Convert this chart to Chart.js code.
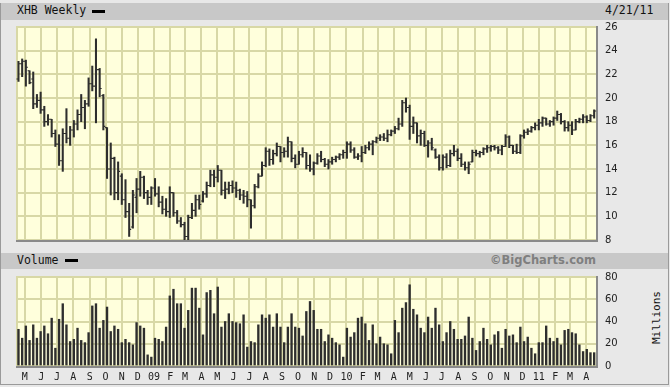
<!DOCTYPE html>
<html><head><meta charset="utf-8">
<script src="https://cdn.jsdelivr.net/npm/chart.js@4.4.1/dist/chart.umd.min.js"></script>
<style>
html,body{margin:0;padding:0;background:#e8e8e8;}
#wrap{position:relative;width:670px;height:387px;overflow:hidden;background:#e8e8e8;}
.hdr{position:absolute;left:1px;width:667px;background:#c8c8c8;}
.t{position:absolute;font-family:"DejaVu Sans Mono",monospace;font-size:11.5px;color:#111;line-height:1;white-space:nowrap;}
.sw{position:absolute;background:#000;}
canvas{position:absolute;left:0;}
</style></head><body>
<div id="wrap">
 <div style="position:absolute;left:0;top:3px;width:667px;height:381px;border:1px solid #9a9a9a;border-top:none;"></div>
 <div class="hdr" style="top:3px;height:17px;"></div>
 <div class="t" style="left:17px;top:5px;">XHB Weekly</div>
 <div class="sw" style="left:92px;top:10px;width:13px;height:3px;"></div>
 <div class="t" style="left:605px;top:5px;">4/21/11</div>
 <div class="hdr" style="top:253px;height:16px;"></div>
 <div class="t" style="left:17px;top:255px;">Volume</div>
 <div class="sw" style="left:65px;top:259px;width:13px;height:3px;"></div>
 <div class="t" style="left:490px;top:255px;font-family:'DejaVu Sans',sans-serif;font-weight:bold;color:#7f7f7f;font-size:11.5px;">©BigCharts.com</div>
 <div class="t" style="left:628px;top:312px;width:56px;text-align:center;font-size:11px;transform:rotate(-90deg);">Millions</div>
 <canvas id="c1" width="670" height="255" style="top:0"></canvas>
 <canvas id="c2" width="670" height="125" style="top:262px"></canvas>
</div>
<script>
const firstWeek = '2008-04-21';
const monthStarts = ['2008-05-01','2008-06-01','2008-07-01','2008-08-01','2008-09-01','2008-10-01','2008-11-01','2008-12-01',
 '2009-01-01','2009-02-01','2009-03-01','2009-04-01','2009-05-01','2009-06-01','2009-07-01','2009-08-01','2009-09-01','2009-10-01','2009-11-01','2009-12-01',
 '2010-01-01','2010-02-01','2010-03-01','2010-04-01','2010-05-01','2010-06-01','2010-07-01','2010-08-01','2010-09-01','2010-10-01','2010-11-01','2010-12-01',
 '2011-01-01','2011-02-01','2011-03-01','2011-04-01'];
const monthLabels = ['M','J','J','A','S','O','N','D','09','F','M','A','M','J','J','A','S','O','N','D','10','F','M','A','M','J','J','A','S','O','N','D','11','F','M','A'];

const opens = [21.6,22.9,23.1,22.3,21.6,19.5,19.8,19.0,18.0,18.2,
 17.0,16.1,14.7,17.0,16.6,17.3,17.8,18.6,19.2,19.5,
 21.2,21.0,22.4,20.2,17.5,14.0,14.9,12.0,13.4,11.4,
 10.4,9.1,11.6,12.3,13.3,12.0,11.6,12.4,11.9,11.2,
 10.6,10.4,12.0,10.3,9.6,9.3,8.3,9.9,10.5,11.4,
 11.3,11.9,12.6,13.5,13.3,13.9,12.2,12.3,12.6,12.4,
 12.2,11.8,11.7,11.4,10.9,12.5,13.4,14.3,15.5,14.8,
 15.3,15.9,15.4,15.5,16.3,14.9,14.4,15.2,15.4,14.3,
 14.0,14.5,15.1,14.8,14.4,14.6,14.8,15.0,15.2,15.4,
 16.1,15.6,15.0,15.1,15.4,15.8,16.1,16.3,16.6,16.7,
 16.6,16.9,17.2,17.4,17.8,19.6,19.2,17.6,17.9,16.8,
 17.0,16.0,16.2,15.6,15.0,14.1,15.0,14.3,15.3,15.5,
 14.9,14.4,14.1,14.6,15.4,15.3,15.4,15.7,15.8,15.9,
 15.8,15.6,15.9,16.7,16.0,15.5,15.4,16.8,17.1,17.2,
 17.5,17.7,17.9,18.3,17.8,18.0,18.3,18.6,18.0,17.5,
 17.7,17.3,18.0,18.2,18.4,18.1,18.5];
const highs = [23.1,23.3,23.2,22.3,22.2,20.3,20.5,19.3,18.6,18.2,
 17.3,16.9,17.4,19.1,17.6,18.1,19.0,20.3,19.8,21.7,
 22.7,25.0,22.5,20.3,17.5,16.2,15.0,14.6,13.6,13.1,
 11.1,12.2,13.2,13.8,13.4,12.2,12.5,13.2,12.5,11.7,
 11.5,12.5,12.0,10.5,9.9,9.5,10.1,11.1,11.8,11.8,
 12.1,12.9,13.9,13.9,14.3,13.9,12.9,12.9,13.0,12.9,
 12.3,12.2,12.1,11.4,12.7,13.6,14.6,15.8,15.7,15.6,
 16.2,15.9,15.8,16.7,16.3,15.2,15.5,15.8,15.4,15.2,
 14.6,15.3,15.5,14.9,14.8,15.0,15.1,15.3,15.6,16.3,
 16.3,15.8,15.3,15.9,16.0,16.3,16.4,16.7,16.9,17.0,
 17.3,17.3,17.6,18.3,19.8,20.0,19.4,18.4,17.9,17.3,
 17.2,16.4,16.6,15.7,15.2,15.2,15.3,15.6,16.0,15.7,
 15.3,14.6,14.6,15.6,15.6,15.5,15.8,16.0,16.0,16.0,
 15.9,16.0,16.9,16.8,16.0,16.1,16.9,17.3,17.4,17.6,
 17.9,18.2,18.4,18.3,18.1,18.4,18.9,18.7,18.1,18.0,
 18.0,18.2,18.3,18.6,18.5,18.6,19.0];
const lows = [21.4,21.8,21.0,21.2,19.1,19.2,18.7,17.6,17.7,16.7,
 15.9,14.3,13.8,16.2,16.0,16.7,17.3,18.0,17.4,19.3,
 20.6,17.9,20.1,17.3,13.2,11.8,11.4,11.4,11.0,9.9,
 8.3,9.0,10.3,11.7,11.5,11.0,11.0,11.7,10.8,10.2,
 10.0,9.9,10.0,9.4,9.1,8.0,8.0,9.8,10.0,10.6,
 11.2,11.6,12.5,12.5,12.9,11.8,11.5,11.9,12.0,11.6,
 11.4,11.1,10.8,9.0,10.7,12.4,13.4,14.2,14.3,14.4,
 15.1,14.6,15.0,15.0,14.6,14.1,14.4,15.0,14.0,13.8,
 13.5,14.4,14.6,14.2,14.0,14.4,14.6,14.8,14.9,14.9,
 15.4,14.9,14.8,14.6,15.3,15.6,15.2,16.2,16.4,16.4,
 16.3,16.8,17.0,17.3,17.6,18.8,16.5,17.0,16.2,16.0,
 15.9,15.0,15.6,14.9,13.9,13.9,14.1,14.2,15.1,14.7,
 14.2,13.9,13.6,14.6,15.1,15.0,15.2,15.4,15.5,15.6,
 15.3,15.2,15.9,15.8,15.3,15.3,15.3,16.6,16.9,17.1,
 17.3,17.3,17.6,17.7,17.6,17.7,18.1,17.8,17.2,17.2,
 16.9,17.3,17.9,17.9,17.9,18.0,18.3];
const closes = [22.9,23.1,22.6,21.3,19.5,19.8,19.0,18.0,18.2,17.0,
 16.1,14.7,17.0,16.6,17.3,17.8,18.6,19.2,19.5,21.2,
 21.0,22.4,20.8,17.6,14.0,14.9,12.0,13.8,11.4,10.4,
 8.9,11.8,12.3,13.3,12.0,11.6,12.4,11.9,11.2,10.6,
 10.4,12.0,10.3,9.6,9.3,8.3,9.9,10.5,11.4,11.0,
 11.9,12.6,13.5,13.3,13.9,12.2,12.3,12.6,12.4,12.2,
 11.8,11.7,11.4,10.9,12.5,13.4,14.3,15.5,14.8,15.3,
 15.9,15.4,15.5,16.3,14.9,14.4,15.2,15.4,14.3,14.0,
 14.5,15.1,14.8,14.4,14.6,14.8,15.0,15.2,15.4,16.1,
 15.6,15.0,15.1,15.4,15.8,16.1,16.3,16.6,16.7,16.6,
 16.9,17.2,17.4,17.8,19.6,19.2,17.6,17.9,16.8,17.0,
 16.0,16.2,15.8,15.0,14.1,15.0,14.3,15.3,15.5,14.9,
 14.4,14.1,14.4,15.4,15.3,15.4,15.7,15.8,15.9,15.8,
 15.6,15.9,16.7,16.0,15.5,15.4,16.8,17.1,17.2,17.5,
 17.7,17.9,18.3,17.8,18.0,18.3,18.6,18.0,17.5,17.7,
 17.3,18.0,18.2,18.4,18.1,18.5,18.9];
const volumes = [33,25,36,23,37,25,31,36,29,43,
 16,42,56,37,22,24,34,23,21,30,
 54,56,34,41,53,31,36,33,21,24,
 21,19,39,36,34,10,8,25,24,22,
 35,63,69,56,56,34,50,70,70,52,
 28,66,68,47,71,35,40,47,40,39,
 38,46,17,22,21,37,46,43,46,35,
 47,35,21,35,47,35,34,27,49,58,
 50,33,33,22,28,25,21,19,8,34,
 26,30,43,44,38,23,37,20,26,20,
 19,11,41,30,52,57,73,51,46,34,
 30,44,34,52,37,22,30,40,33,24,
 24,27,44,25,14,22,34,24,19,28,
 31,16,33,27,28,21,35,22,26,16,
 11,21,21,36,25,22,25,19,32,33,
 30,29,19,13,15,12,12];
const priceTicks = {min:8, max:26, step:2};
const volTicks = {min:0, max:80, step:20};

const weekMs = 7*86400000;
const monthPos = monthStarts.map(d => (Date.parse(d) - Date.parse(firstWeek)) / weekMs + 0.3);

const GRID = '#d8d8a6';
const PLOT_BG = '#ffffdc';
const BAR = '#2e2e2e';

const panelPlugin = {
  id: 'panel',
  beforeDraw(chart) {
    const a = chart.chartArea, ctx = chart.ctx;
    ctx.save();
    ctx.fillStyle = PLOT_BG;
    ctx.fillRect(a.left, a.top, a.right - a.left, a.bottom - a.top);
    ctx.restore();
  },
  beforeDatasetsDraw(chart) {
    const a = chart.chartArea, ctx = chart.ctx;
    ctx.save();
    ctx.fillStyle = GRID;
    ctx.fillRect(a.left - 1, a.top - 1, 2, a.bottom - a.top + 1);
    ctx.fillStyle = '#8a8a8a';
    ctx.fillRect(a.right, a.top - 1, 2, a.bottom - a.top + 3);
    ctx.fillRect(a.left - 1, a.bottom, a.right - a.left + 3, 2);
    ctx.restore();
  }
};

const ohlcPlugin = {
  id: 'ohlcTicks',
  afterDatasetsDraw(chart) {
    const {ctx, scales: {x, y}} = chart;
    ctx.save();
    ctx.strokeStyle = BAR;
    ctx.lineWidth = 1.1;
    ctx.beginPath();
    for (let i = 0; i < opens.length; i++) {
      const px = x.getPixelForValue(i);
      const po = y.getPixelForValue(opens[i]);
      const pc = y.getPixelForValue(closes[i]);
      ctx.moveTo(px - 2, po); ctx.lineTo(px, po);
      ctx.moveTo(px, pc); ctx.lineTo(px + 2, pc);
    }
    ctx.stroke();
    ctx.restore();
  }
};

function xScale(showLabels) {
  return {
    type: 'linear', min: -0.4, max: 156.5, offset: false,
    afterBuildTicks: s => { s.ticks = monthPos.map(v => ({value: v})); },
    ticks: {
      display: showLabels, autoSkip: false, maxRotation: 0, minRotation: 0, padding: 5,
      font: {family: 'DejaVu Sans Mono', size: 10}, color: '#222',
      callback: (v, i) => monthLabels[i]
    },
    grid: {color: GRID, lineWidth: 2, drawTicks: false, offset: false},
    border: {display: false},
    afterFit: s => { s.height = showLabels ? 21 : 0; }
  };
}
function yScale(t) {
  return {
    position: 'right', min: t.min, max: t.max,
    ticks: {stepSize: t.step, padding: 9, font: {family: 'DejaVu Sans', size: 10}, color: '#222'},
    grid: {color: GRID, lineWidth: 2, drawTicks: false},
    border: {display: false},
    afterFit: s => { s.width = 74; }
  };
}

new Chart(document.getElementById('c1'), {
  type: 'bar',
  data: {datasets: [{
    data: highs.map((h, i) => ({x: i, y: [lows[i], h]})),
    backgroundColor: BAR, borderWidth: 0, barThickness: 1.4
  }]},
  options: {
    responsive: false, animation: false, events: [],
    layout: {padding: {left: 17, top: 27, right: 0, bottom: 0}},
    plugins: {legend: {display: false}, tooltip: {enabled: false}},
    scales: {x: xScale(false), y: yScale(priceTicks)}
  },
  plugins: [panelPlugin, ohlcPlugin]
});

new Chart(document.getElementById('c2'), {
  type: 'bar',
  data: {datasets: [{
    data: volumes.map((v, i) => ({x: i, y: v})),
    backgroundColor: BAR, borderWidth: 0, barThickness: 1.7
  }]},
  options: {
    responsive: false, animation: false, events: [],
    layout: {padding: {left: 17, top: 0, right: 0, bottom: 0}},
    plugins: {legend: {display: false}, tooltip: {enabled: false}},
    scales: {x: xScale(true), y: yScale(volTicks)}
  },
  plugins: [panelPlugin]
});
</script>
</body></html>
